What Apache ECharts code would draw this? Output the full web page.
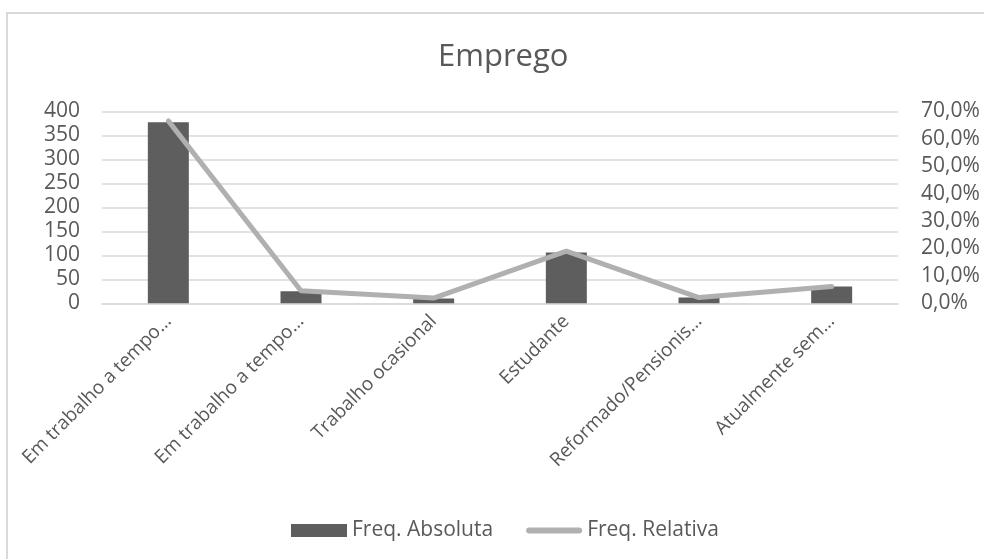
<!DOCTYPE html>
<html>
<head>
<meta charset="utf-8">
<script src="https://cdn.jsdelivr.net/npm/echarts@6/dist/echarts.min.js"></script>
<style>
html,body{margin:0;padding:0;background:#fff;}
#chart{width:984px;height:559px;}
</style>
</head>
<body>
<div id="chart"></div>
<script>
const titleText = 'Emprego';
const categories = ['Em trabalho a tempo…', 'Em trabalho a tempo…', 'Trabalho ocasional', 'Estudante', 'Reformado/Pensionis…', 'Atualmente sem…'];
const absoluteValues = [377, 25, 10, 106, 12, 35];
const relativeValues = [66.5, 4.6, 1.9, 19.0, 2.1, 6.1];
const seriesNames = ['Freq. Absoluta', 'Freq. Relativa'];

const FONT = 'Open Sans';
const TXT = '#595959';

const chart = echarts.init(document.getElementById('chart'), null, {renderer: 'canvas'});
chart.setOption({
  backgroundColor: '#ffffff',
  animation: false,
  textStyle: {fontFamily: FONT, color: TXT},
  graphic: [{
    type: 'rect',
    shape: {x: 7, y: 13, width: 1100, height: 700},
    style: {fill: 'none', stroke: '#d9d9d9', lineWidth: 2},
    silent: true
  }],
  title: {
    text: titleText,
    left: 433,
    top: 37,
    textStyle: {fontFamily: FONT, fontSize: 31, fontWeight: 'normal', color: TXT}
  },
  legend: {
    left: 286,
    top: 515,
    itemGap: 33,
    itemWidth: 56,
    itemHeight: 13,
    textStyle: {fontFamily: FONT, fontSize: 21, color: TXT},
    data: [
      {name: seriesNames[0], icon: 'rect'},
      {name: seriesNames[1], icon: 'path://M3,0 L53,0 A3,3 0 0 1 53,6 L3,6 A3,3 0 0 1 3,0 Z', itemStyle: {color: '#b0b0b0'}}
    ]
  },
  grid: {left: 102, right: 86, top: 111.3, bottom: 255.7, containLabel: false},
  xAxis: {
    type: 'category',
    data: categories,
    axisLine: {show: true, lineStyle: {color: '#d9d9d9', width: 1.5}},
    axisTick: {show: false},
    axisLabel: {
      rotate: 45,
      interval: 0,
      margin: 15,
      fontFamily: FONT,
      fontSize: 19,
      color: TXT
    }
  },
  yAxis: [{
    type: 'value',
    min: 0,
    max: 400,
    interval: 50,
    axisLine: {show: false},
    axisTick: {show: false},
    splitLine: {lineStyle: {color: '#d9d9d9', width: 1.5}},
    axisLabel: {fontFamily: FONT, fontSize: 21, color: TXT, margin: 22}
  }, {
    type: 'value',
    min: 0,
    max: 70,
    interval: 10,
    position: 'right',
    axisLine: {show: false},
    axisTick: {show: false},
    splitLine: {show: false},
    axisLabel: {
      fontFamily: FONT, fontSize: 21, color: TXT, margin: 23,
      formatter: v => v.toFixed(1).replace('.', ',') + '%'
    }
  }],
  series: [{
    name: seriesNames[0],
    type: 'bar',
    data: absoluteValues,
    barWidth: 41,
    itemStyle: {color: '#5e5e5e'}
  }, {
    name: seriesNames[1],
    type: 'line',
    yAxisIndex: 1,
    data: relativeValues,
    symbol: 'none',
    lineStyle: {color: '#b0b0b0', width: 5, cap: 'round', join: 'round'},
    itemStyle: {color: '#b0b0b0'}
  }]
});
</script>
</body>
</html>
